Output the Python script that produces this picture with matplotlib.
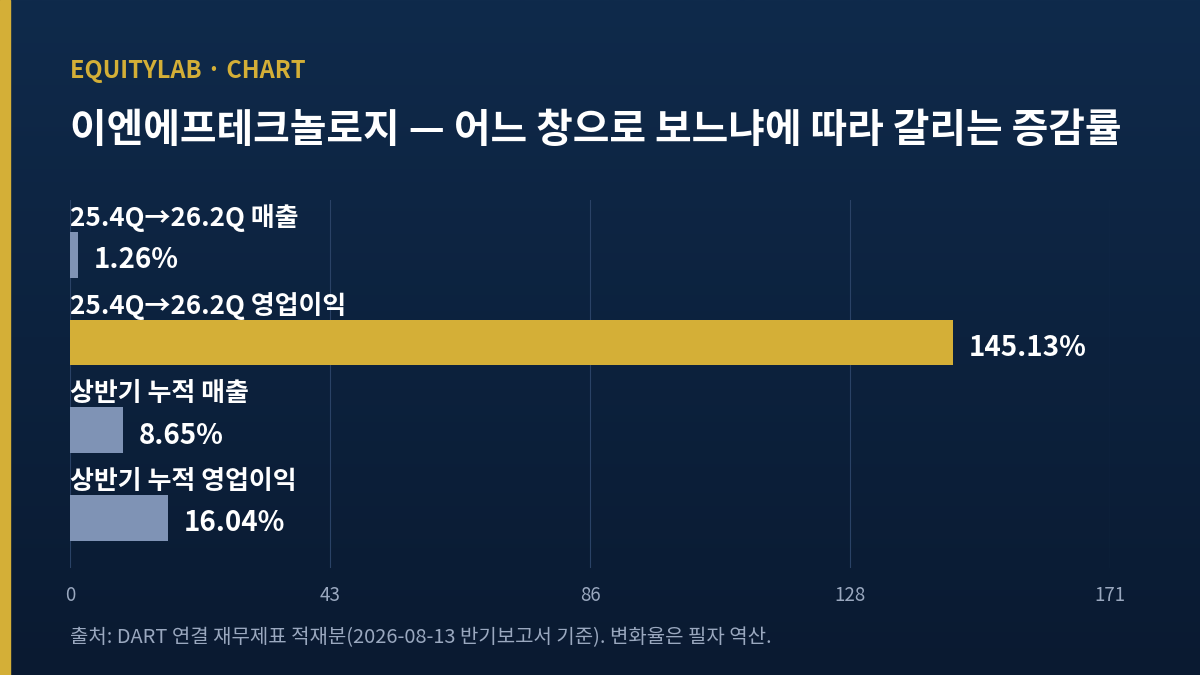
import matplotlib
matplotlib.use("Agg")
import matplotlib.pyplot as plt
import numpy as np
from matplotlib.colors import LinearSegmentedColormap

plt.rcParams['font.family'] = ['Noto Sans CJK KR', 'DejaVu Sans']

categories = ["25.4Q→26.2Q 매출", "25.4Q→26.2Q 영업이익", "상반기 누적 매출", "상반기 누적 영업이익"]
values = [1.26, 145.13, 8.65, 16.04]
highlight = [False, True, False, False]
ticks = [0, 42.75, 85.5, 128.25, 171]
tick_labels = ["0", "43", "86", "128", "171"]

fig = plt.figure(figsize=(12, 6.75), dpi=100)
bg = fig.add_axes([0, 0, 1, 1])
grad = np.linspace(0, 1, 256).reshape(-1, 1)
cmap = LinearSegmentedColormap.from_list("bg", ["#0f2a4b", "#0a1a31"])
bg.imshow(grad, aspect='auto', cmap=cmap, extent=[0, 1, 0, 1], origin='upper')
bg.add_patch(plt.Rectangle((0, 0), 10/1200, 1, color="#d4af37", transform=bg.transAxes))
bg.set_axis_off()

fig.text(70/1200, 1-71/675, "EQUITYLAB · CHART", color="#d4af37", fontsize=17, fontweight='bold', va='center')
fig.text(70/1200, 1-130/675, "이엔에프테크놀로지 — 어느 창으로 보느냐에 따라 갈리는 증감률", color="white",
         fontsize=28.7, fontweight='bold', va='center')
fig.text(70/1200, 1-638/675, "출처: DART 연결 재무제표 적재분(2026-08-13 반기보고서 기준). 변화율은 필자 역산.",
         color="#9aa8bf", fontsize=14.4, va='center')

ax = fig.add_axes([70/1200, 1-568/675, 1040/1200, 368/675])
ax.set_facecolor('none')
ax.set_xlim(0, 171)
ax.set_ylim(3.57, -0.625)
y = np.arange(len(values))
colors = ["#d4af37" if h else "#7f93b5" for h in highlight]
ax.barh(y, values, height=0.52, color=colors, zorder=3)
for i, (c, v) in enumerate(zip(categories, values)):
    ax.text(0, i - 0.42, c, color="white", fontsize=18.7, fontweight='bold', va='center', ha='left')
    ax.text(v + 2.6, i + 0.06, f"{v:.2f}%", color="white", fontsize=20, fontweight='bold', va='center', ha='left')
ax.set_xticks(ticks)
ax.set_xticklabels(tick_labels, color="#9aa8bf", fontsize=13.5)
ax.set_yticks([])
ax.tick_params(axis='x', length=0, pad=12)
ax.grid(axis='x', color="#2a4266", linewidth=0.8, zorder=0)
for s in ax.spines.values():
    s.set_visible(False)

fig.savefig("out.png", dpi=100)
